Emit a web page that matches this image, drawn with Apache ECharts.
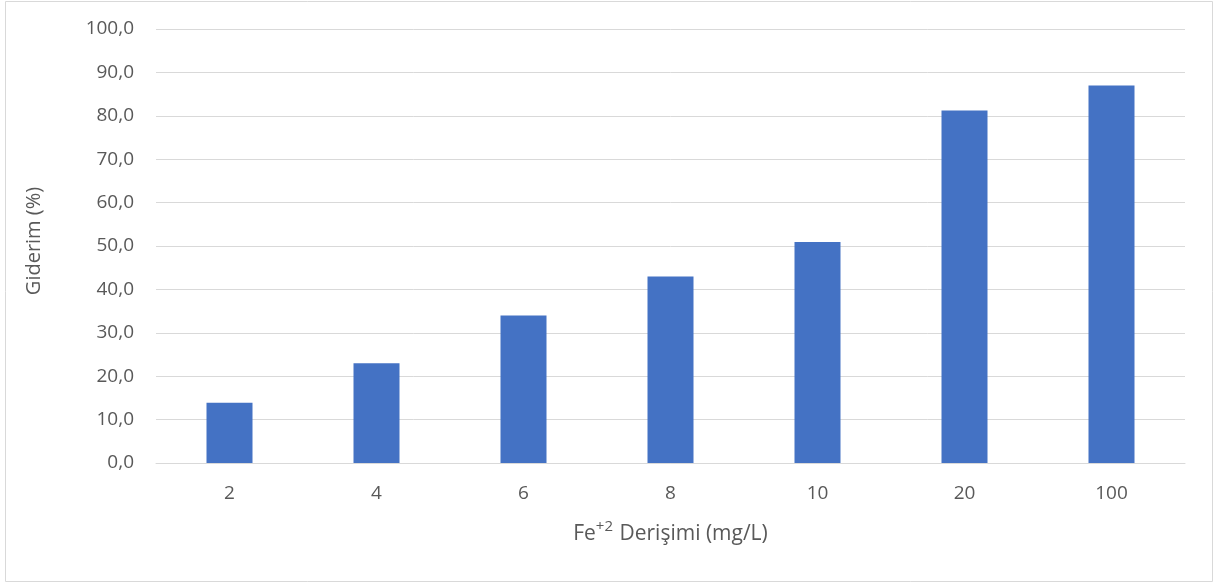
<!DOCTYPE html>
<html>
<head>
<meta charset="utf-8">
<script src="https://cdn.jsdelivr.net/npm/echarts@6/dist/echarts.min.js"></script>
<style>
  html, body { margin: 0; padding: 0; background: #ffffff; }
  #chart { width: 1215px; height: 584px; }
</style>
</head>
<body>
<div id="chart"></div>
<script>
// Fe+2 concentration (mg/L) and corresponding removal (%)
const categories = ['2', '4', '6', '8', '10', '20', '100'];
const removal = [13.9, 23.0, 34.0, 43.0, 50.9, 81.2, 87.0];

const fontFamily = '"Open Sans", "Liberation Sans", sans-serif';
const textColor = '#595959';

const chart = echarts.init(document.getElementById('chart'), null, { renderer: 'canvas' });

chart.setOption({
  animation: false,
  backgroundColor: '#ffffff',
  graphic: [{
    type: 'rect',
    shape: { x: 5.5, y: 1.5, width: 1207, height: 580 },
    style: { fill: 'none', stroke: '#d9d9d9', lineWidth: 1 },
    silent: true
  }],
  grid: { left: 156, right: 30, top: 29, bottom: 121, containLabel: false },
  xAxis: {
    type: 'category',
    data: categories,
    axisLine: { show: true, lineStyle: { color: '#d9d9d9', width: 1 } },
    axisTick: { show: false },
    axisLabel: { color: textColor, fontFamily, fontSize: 19, margin: 21 },
    name: '{base|Fe}{sup|+2}{base| Derişimi (mg/L)}',
    nameLocation: 'middle',
    nameGap: 56,
    nameTextStyle: {
      color: textColor,
      fontFamily,
      rich: {
        base: { fontSize: 21, color: textColor, fontFamily, verticalAlign: 'bottom', lineHeight: 26 },
        sup: { fontSize: 15, color: textColor, fontFamily, verticalAlign: 'top', lineHeight: 26, padding: [0, 1, 6, 0] }
      }
    }
  },
  yAxis: {
    type: 'value',
    min: 0,
    max: 100,
    interval: 10,
    axisLine: { show: false },
    axisTick: { show: false },
    splitLine: { lineStyle: { color: '#d9d9d9', width: 1 } },
    axisLabel: {
      color: textColor,
      fontFamily,
      fontSize: 19,
      margin: 22,
      formatter: v => v.toFixed(1).replace('.', ',')
    },
    name: 'Giderim (%)',
    nameLocation: 'middle',
    nameRotate: 90,
    nameGap: 112,
    nameTextStyle: { color: textColor, fontFamily, fontSize: 20, padding: [0, 0, 0, 10] }
  },
  series: [{
    type: 'bar',
    data: removal,
    barWidth: 46,
    itemStyle: { color: '#4472c4' }
  }]
});
</script>
</body>
</html>
